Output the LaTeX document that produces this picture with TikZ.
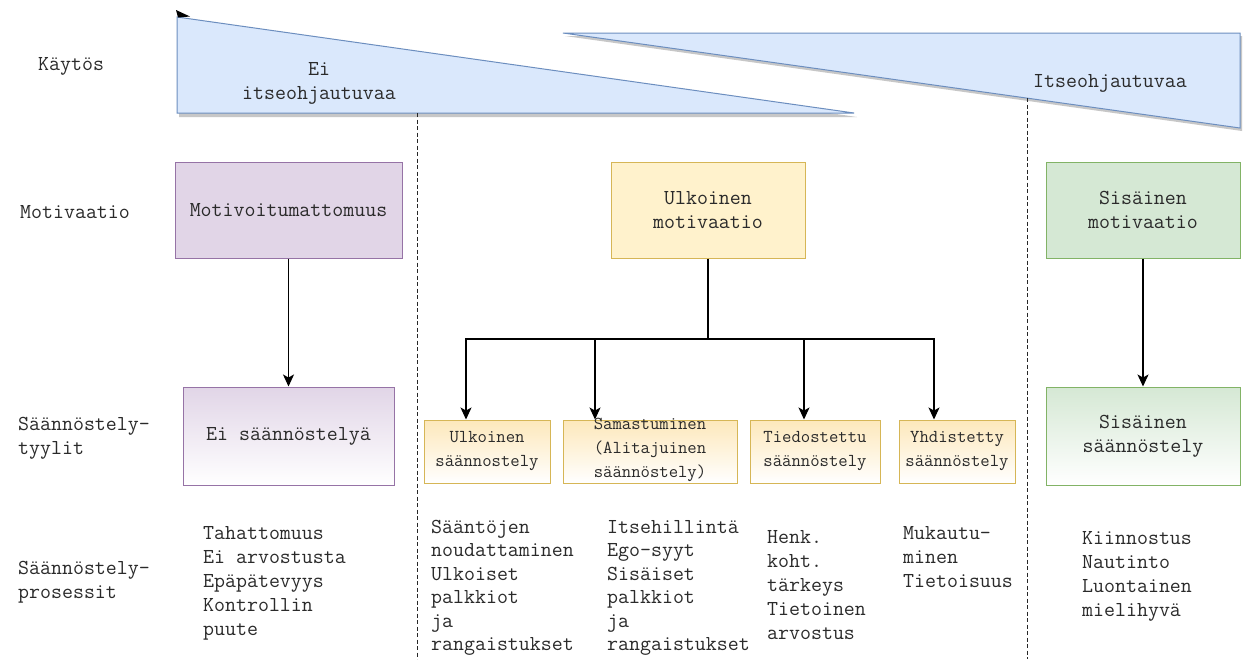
\documentclass[tikz,border=0pt]{standalone}
\usepackage{fontspec}
\definecolor{txtc}{HTML}{2A2A2A}
\definecolor{blueF}{HTML}{DAE8FC}
\definecolor{blueD}{HTML}{6C8EBF}
\definecolor{purF}{HTML}{E1D5E7}
\definecolor{purD}{HTML}{9673A6}
\definecolor{yelF}{HTML}{FFF2CC}
\definecolor{yelD}{HTML}{D6B656}
\definecolor{greF}{HTML}{D5E8D4}
\definecolor{greD}{HTML}{82B366}
\definecolor{sgrad}{HTML}{FDE8BB}
\usetikzlibrary{arrows.meta}
\begin{document}
\begin{tikzpicture}[x=1pt,y=-1pt,
  txt/.style={font=\ttfamily\fontsize{21.3}{24}\selectfont, text=txtc, inner sep=0pt},
  lbl/.style={txt, align=left, anchor=west},
  col/.style={txt, align=left, anchor=north west},
  tcol/.style={col, font=\ttfamily\fontsize{21.3}{23.4}\selectfont},
  bbox/.style={txt, align=center, line width=1pt, minimum height=96pt},
  sbox/.style={inner sep=0pt, line width=1pt, draw=yelD, top color=sgrad, bottom color=white, minimum height=63pt},
  stxt/.style={font=\ttfamily\fontsize{18.2}{24}\selectfont, text=txtc, inner sep=0pt, align=center},
  conn/.style={line width=1.2pt, draw=black},
  arr/.style={conn, -{Stealth[length=12pt,width=11pt,inset=3pt]}},
  sepline/.style={draw=black!85, line width=1pt, dash pattern=on 4pt off 2.5pt},
  tri/.style={fill=blueF, draw=blueD, line width=1pt, line join=miter},
  shad/.style={fill=black!40, opacity=0.55}
]
\fill[white] (0,0) rectangle (1247,659);
\useasboundingbox (0,0) rectangle (1247,659);

% triangles (Käytös band)
\fill[shad] (179,20) -- (179,117) -- (857,117) -- cycle;
\draw[tri] (177,17) -- (177,113) -- (854,113) -- cycle;
\fill[shad] (565,36) -- (1242,36) -- (1242,131) -- cycle;
\draw[tri] (563,33) -- (1240,33) -- (1240,128) -- cycle;
\fill[black] (176,10) -- (190,16.5) -- (178,17.5) -- cycle;

% separators
\coordinate (d1t) at (417,113);
\coordinate (d1b) at (417,659);
\coordinate (d2t) at (1027,98);
\coordinate (d2b) at (1027,659);
\draw[sepline] (d1t) -- (d1b);
\draw[sepline] (d2t) -- (d2b);

\node[txt, align=center] (t1) at (319,83.5) {Ei\\itseohjautuvaa};
\node[txt] (t2) at (1110,83) {Itseohjautuvaa};

% row labels
\node[lbl] (lk) at (38,66) {Käytös};
\node[lbl] (lm) at (20,212) {Motivaatio};
\node[lbl] (lt) at (18,438) {Säännöstely-\\tyylit};
\node[lbl] (lp) at (18,582.5) {Säännöstely-\\prosessit};

% motivation boxes
\node[bbox, draw=purD, fill=purF, minimum width=227pt] (motA) at (288.5,210) {Motivoitumattomuus};
\node[bbox, draw=yelD, fill=yelF, minimum width=194pt] (motB) at (708,210) {Ulkoinen\\motivaatio};
\node[bbox, draw=greD, fill=greF, minimum width=194pt] (motC) at (1143,210) {Sisäinen\\motivaatio};

% regulation boxes
\node[bbox, draw=purD, top color=purF, bottom color=white, minimum width=211pt, minimum height=98pt] (regA) at (288.5,436) {Ei säännöstelyä};
\node[bbox, draw=greD, top color=greF, bottom color=white, minimum width=194pt, minimum height=98pt] (regC) at (1143,436) {Sisäinen\\säännöstely};

\node[sbox, minimum width=126pt] (s1) at (487,451.5) {};
\node[sbox, minimum width=174pt] (s2) at (650,451.5) {};
\node[sbox, minimum width=130pt] (s3) at (815,451.5) {};
\node[sbox, minimum width=116pt] (s4) at (957,451.5) {};
\node[stxt] (s1t) at (s1.center) {Ulkoinen\\säännostely};
\node[stxt] (s2t) at ([yshift=1.5pt]s2.center) {Samastuminen\\(Alitajuinen\\säännöstely)};
\node[stxt] (s3t) at (s3.center) {Tiedostettu\\säännöstely};
\node[stxt] (s4t) at (s4.center) {Yhdistetty\\säännöstely};

% connectors
\draw[arr] (motA.south) -- (regA.north);
\draw[arr] (motC.south) -- (regC.north);
\coordinate (j1) at (466,339);
\coordinate (j2) at (595,339);
\coordinate (j3) at (804,339);
\coordinate (j4) at (934,339);
\draw[conn] (motB.south) -- (motB.south |- j1);
\draw[conn, line cap=rect] (j1) -- (j4);
\draw[arr] (j1) -- (j1 |- s1.north);
\draw[arr] (j2) -- (j2 |- s2.north);
\draw[arr] (j3) -- (j3 |- s3.north);
\draw[arr] (j4) -- (j4 |- s4.north);

% process texts
\node[col] (p1) at (203,522.4) {\strut Tahattomuus\\Ei arvostusta\\Epäpätevyys\\Kontrollin\\puute};
\node[tcol] (p2) at (431,517) {\strut Sääntöjen\\noudattaminen\\Ulkoiset\\palkkiot\\ja\\rangaistukset};
\node[tcol] (p3) at (607,517) {\strut Itsehillintä\\Ego-syyt\\Sisäiset\\palkkiot\\ja\\rangaistukset};
\node[col] (p4) at (767,526.4) {\strut Henk.\\koht.\\tärkeys\\Tietoinen\\arvostus};
\node[col] (p5) at (903,522.4) {\strut Mukautu-\\minen\\Tietoisuus};
\node[col] (p6) at (1082,527.4) {\strut Kiinnostus\\Nautinto\\Luontainen\\mielihyvä};
\end{tikzpicture}
\end{document}
